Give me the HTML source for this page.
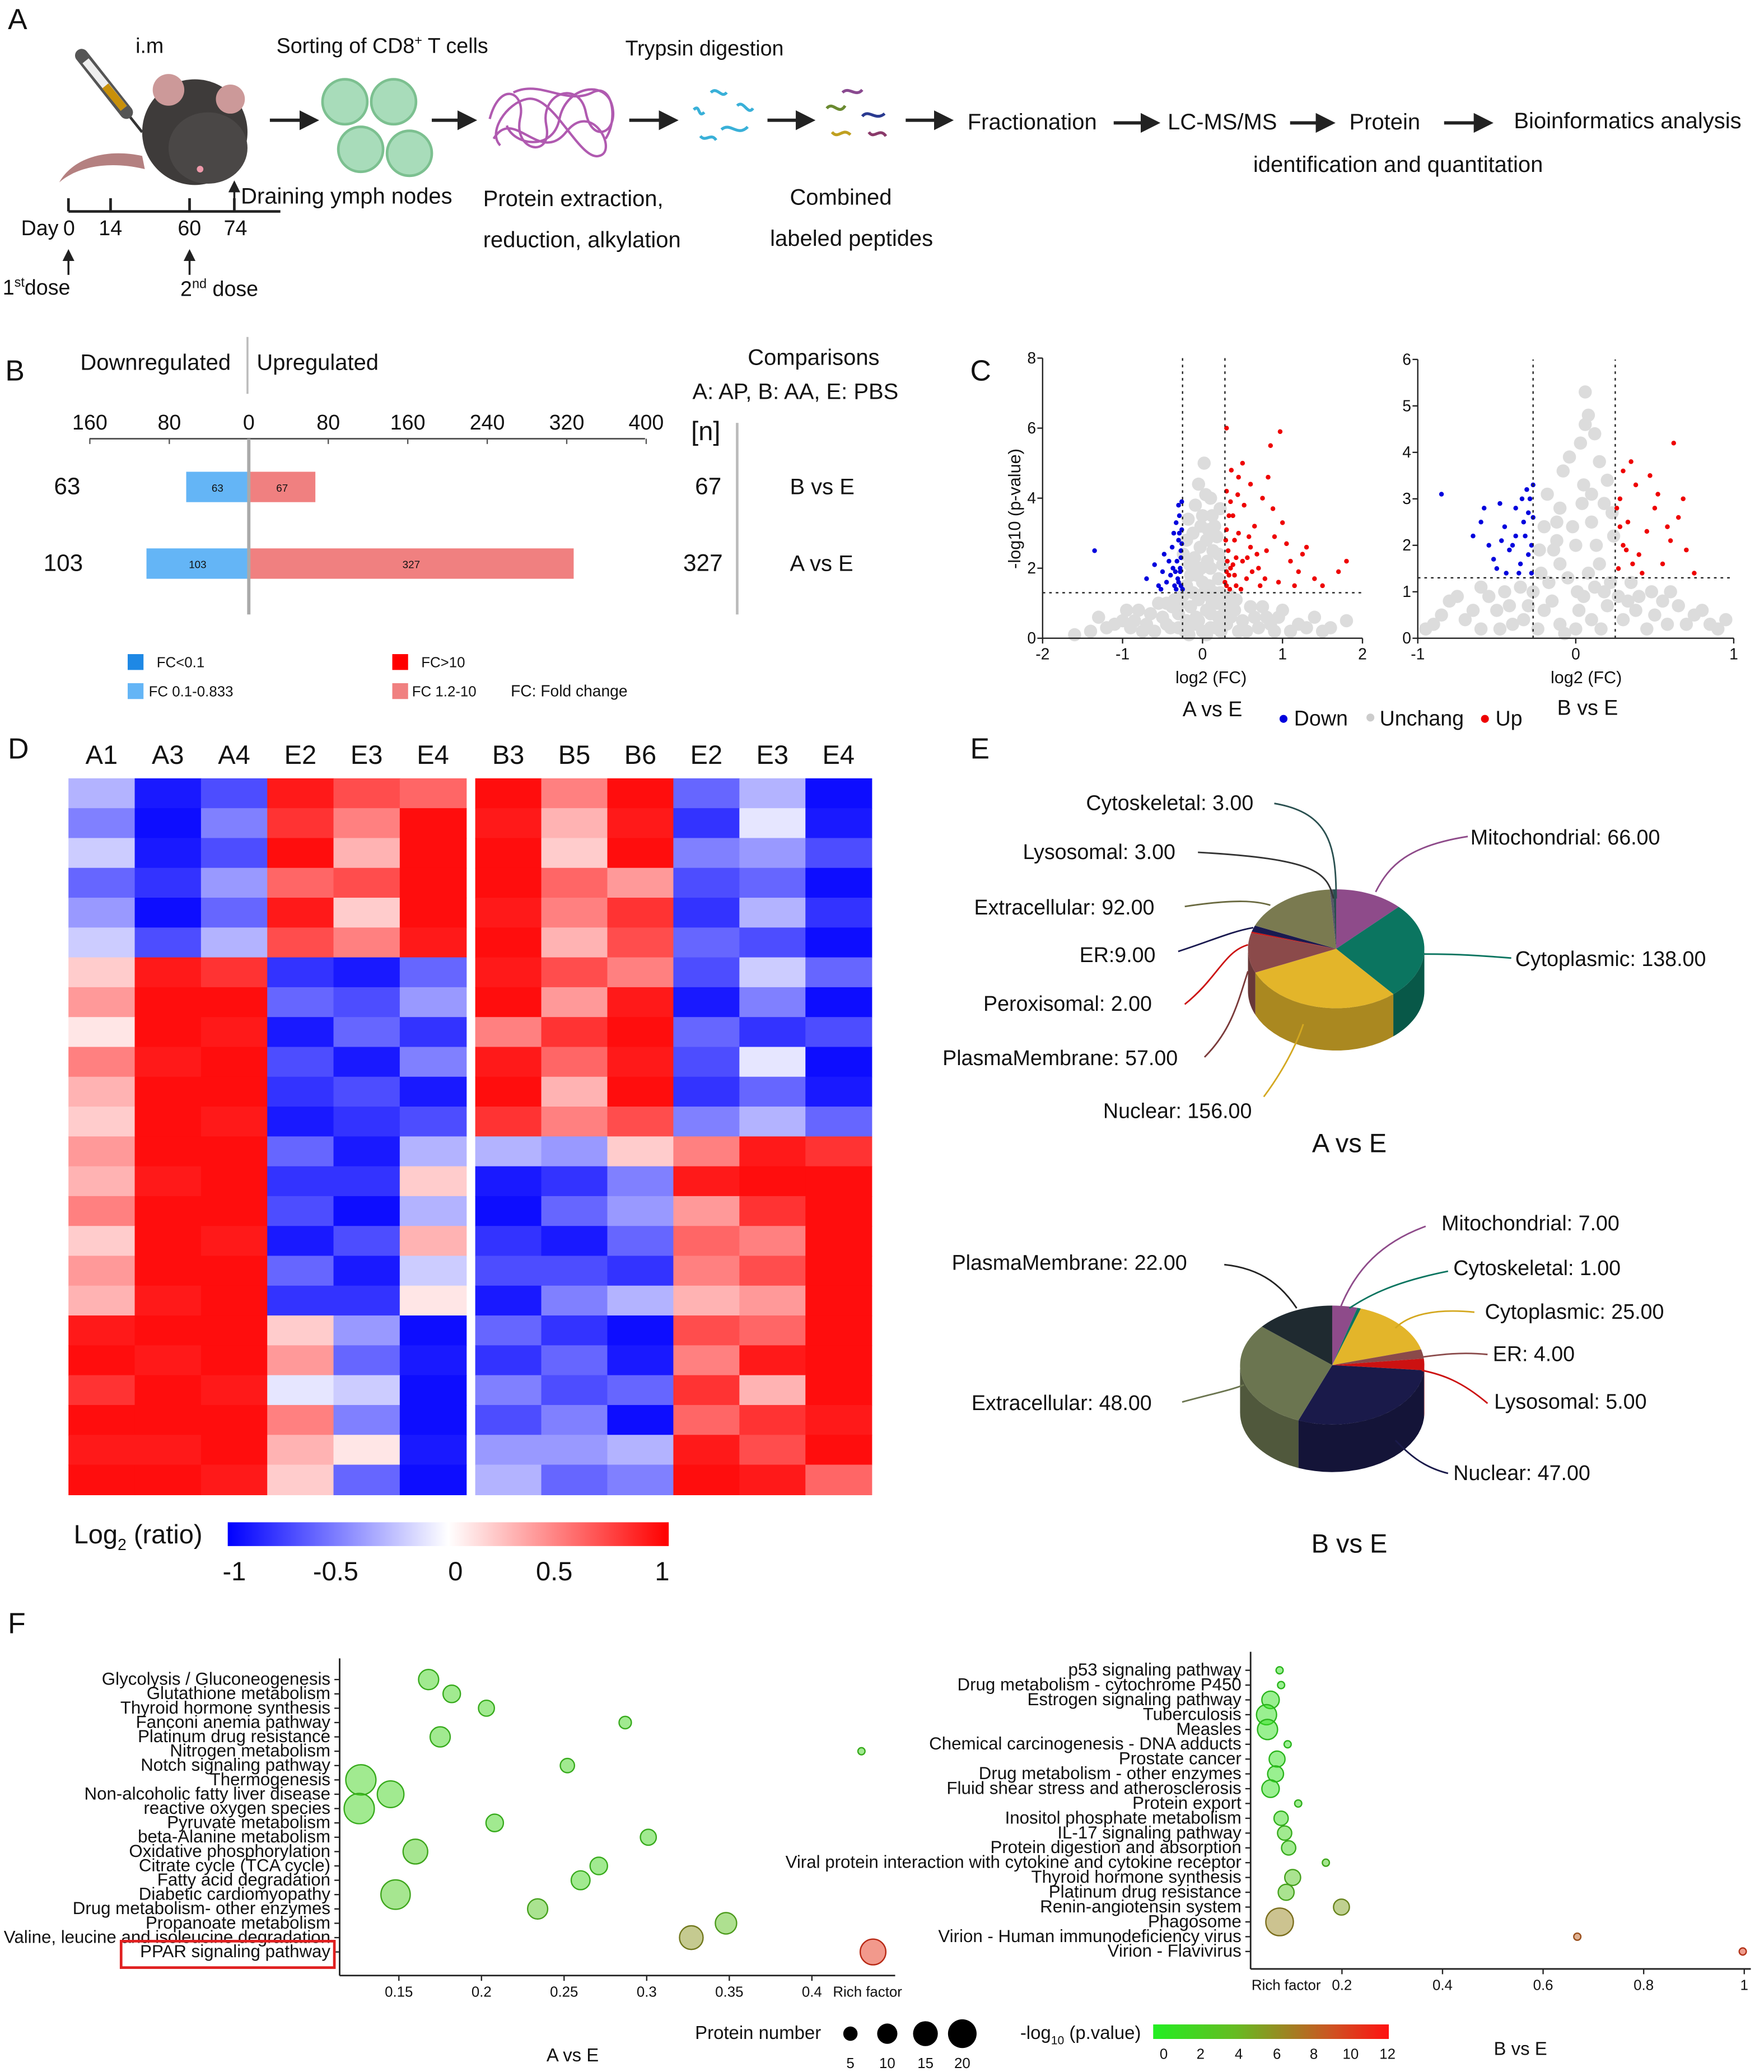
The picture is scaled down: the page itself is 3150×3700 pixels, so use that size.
<!DOCTYPE html>
<html><head><meta charset="utf-8"><style>
html,body{margin:0;padding:0;background:#fff}
svg{display:block}
text{font-family:"Liberation Sans",Arial,sans-serif;fill:#111}
</style></head><body>
<svg id="fig" width="3150" height="3700" viewBox="0 0 1340 1568" preserveAspectRatio="none" xmlns="http://www.w3.org/2000/svg">
<defs>
<marker id="ah" markerWidth="6" markerHeight="6" refX="5" refY="3" orient="auto"><path d="M0,0L6,3L0,6z" fill="#222"/></marker>
<linearGradient id="hmgrad" x1="0" x2="1"><stop offset="0" stop-color="#0000ff"/><stop offset="0.5" stop-color="#ffffff"/><stop offset="1" stop-color="#ff0000"/></linearGradient>
<linearGradient id="pgrad" x1="0" x2="1"><stop offset="0" stop-color="#22ee22"/><stop offset="0.35" stop-color="#66bb22"/><stop offset="0.55" stop-color="#998822"/><stop offset="0.75" stop-color="#cc5522"/><stop offset="1" stop-color="#ff1111"/></linearGradient>
</defs>

<!-- Panel A -->
<g>
<text x="6" y="22" font-size="22">A</text>
<g>
<line x1="60" y1="40" x2="108" y2="100" stroke="#333" stroke-width="2"/>
<line x1="62" y1="42" x2="96" y2="85" stroke="#555" stroke-width="10" stroke-linecap="round"/>
<line x1="65" y1="46" x2="94" y2="82" stroke="#eee" stroke-width="6"/>
<line x1="80" y1="65" x2="94" y2="82" stroke="#c8900a" stroke-width="6"/>
</g>
<g>
<path d="M108,118 C80,112 55,120 45,138 C60,125 85,122 110,128z" fill="#b48080"/>
<ellipse cx="148" cy="100" rx="40" ry="40" fill="#3e3b3a"/>
<ellipse cx="158" cy="112" rx="30" ry="27" fill="#4a4746"/>
<circle cx="128" cy="68" r="12" fill="#c99"/><circle cx="175" cy="75" r="11" fill="#c99"/>
<circle cx="152" cy="128" r="2.5" fill="#e9a"/>
</g>
<text x="103" y="40" font-size="16">i.m</text>
<text x="210" y="40" font-size="16">Sorting of CD8<tspan font-size="10" dy="-6">+</tspan><tspan dy="6"> T cells</tspan></text>
<g fill="#a8dcba" stroke="#7cc090" stroke-width="2">
<circle cx="262" cy="77" r="17"/><circle cx="299" cy="77" r="17"/><circle cx="274" cy="113" r="17"/><circle cx="311" cy="116" r="17"/>
</g>
<g fill="none" stroke="#b05ab0" stroke-width="1.8">
<path d="M372,90 C380,60 400,70 395,90 C390,115 420,120 415,95 C410,70 440,60 445,85 C450,110 470,100 465,80 C460,60 430,65 425,90 C420,115 390,110 385,95"/>
<path d="M375,105 C390,80 410,125 430,100 C450,75 470,115 455,118 C440,122 420,70 400,75 C385,78 370,100 380,110"/>
<path d="M390,70 C410,60 430,80 450,70 C465,62 470,90 460,105"/>
</g>
<g fill="none" stroke-width="2.2">
<path d="M527,83 C532,78 530,90 535,85" stroke="#39b0d8"/><path d="M540,70 C545,65 548,75 552,70" stroke="#39b0d8"/>
<path d="M548,98 C555,92 560,104 568,96" stroke="#39b0d8"/><path d="M532,103 C536,108 540,100 544,106" stroke="#39b0d8"/>
<path d="M560,80 C565,75 568,88 572,82" stroke="#39b0d8"/>
<path d="M628,82 C633,76 637,88 642,80" stroke="#6a8a30"/><path d="M640,70 C645,65 650,74 655,68" stroke="#8a4a90"/>
<path d="M655,88 C660,82 665,92 672,86" stroke="#2a3a90"/><path d="M632,100 C637,106 640,96 646,102" stroke="#c0a020"/>
<path d="M660,100 C664,106 668,96 673,103" stroke="#8a3a6a"/>
</g>
<g stroke="#222" stroke-width="2.5" marker-end="url(#ah)">
<line x1="205" y1="91" x2="240" y2="91"/><line x1="328" y1="91" x2="360" y2="91"/><line x1="478" y1="91" x2="513" y2="91"/>
<line x1="583" y1="91" x2="617" y2="91"/><line x1="688" y1="91" x2="722" y2="91"/><line x1="846" y1="93" x2="879" y2="93"/>
<line x1="980" y1="93" x2="1012" y2="93"/><line x1="1097" y1="93" x2="1132" y2="93"/>
</g>
<text x="475" y="42" font-size="16">Trypsin digestion</text>
<text x="735" y="98" font-size="17">Fractionation</text>
<text x="887" y="98" font-size="17">LC-MS/MS</text>
<text x="1025" y="98" font-size="17">Protein</text>
<text x="1150" y="97" font-size="17">Bioinformatics analysis</text>
<text x="952" y="130" font-size="17">identification and quantitation</text>
<text x="367" y="156" font-size="17">Protein extraction,</text>
<text x="367" y="187" font-size="17">reduction, alkylation</text>
<text x="600" y="155" font-size="17">Combined</text>
<text x="585" y="186" font-size="17">labeled peptides</text>
<line x1="178" y1="160" x2="178" y2="138" stroke="#222" stroke-width="1.5" marker-end="url(#ah)"/>
<text x="183" y="154" font-size="17">Draining ymph nodes</text>
<g stroke="#222" stroke-width="2">
<line x1="52" y1="160" x2="213" y2="160"/>
<line x1="52" y1="150" x2="52" y2="160"/><line x1="84" y1="150" x2="84" y2="160"/><line x1="144" y1="150" x2="144" y2="160"/><line x1="178" y1="150" x2="178" y2="160"/>
<line x1="52" y1="208" x2="52" y2="190" stroke-width="1.5" marker-end="url(#ah)"/><line x1="144" y1="208" x2="144" y2="190" stroke-width="1.5" marker-end="url(#ah)"/>
</g>
<text x="16" y="178" font-size="16">Day</text>
<text x="48" y="178" font-size="16">0</text><text x="75" y="178" font-size="16">14</text><text x="135" y="178" font-size="16">60</text><text x="170" y="178" font-size="16">74</text>
<text x="2" y="223" font-size="16">1<tspan font-size="10" dy="-6">st</tspan><tspan dy="6">dose</tspan></text>
<text x="137" y="224" font-size="16">2<tspan font-size="10" dy="-6">nd</tspan><tspan dy="6"> dose</tspan></text>
</g>

<!-- Panel B -->
<g id="panelB">
<text x="4" y="288" font-size="22">B</text>
<text x="61" y="280" font-size="17">Downregulated</text>
<text x="195" y="280" font-size="17">Upregulated</text>
<line x1="188" y1="255" x2="188" y2="298" stroke="#bbb" stroke-width="1.5"/>
<text x="568" y="276" font-size="17">Comparisons</text>
<text x="526" y="302" font-size="17">A: AP, B: AA, E: PBS</text>
<text x="525" y="333" font-size="20">[n]</text>
<line x1="560" y1="320" x2="560" y2="465" stroke="#bbb" stroke-width="2"/>
<line x1="68" y1="332" x2="490" y2="332" stroke="#555" stroke-width="1.2"/>
<g id="bTicks"></g><g id="bBars"></g>
<line x1="189" y1="332" x2="189" y2="465" stroke="#aaa" stroke-width="2.5"/>
<g font-size="11">
<rect x="97" y="495" width="12" height="12" fill="#1e88e5"/><text x="119" y="505" font-size="11">FC&lt;0.1</text>
<rect x="97" y="517" width="12" height="12" fill="#64b5f6"/><text x="113" y="527" font-size="11">FC 0.1-0.833</text>
<rect x="298" y="495" width="12" height="12" fill="#ff0000"/><text x="320" y="505" font-size="11">FC&gt;10</text>
<rect x="298" y="517" width="12" height="12" fill="#f08080"/><text x="313" y="527" font-size="11">FC 1.2-10</text>
<text x="388" y="527" font-size="12">FC: Fold change</text>
</g>
</g>

<!-- Panel C -->
<g id="panelC">
<text x="737" y="288" font-size="22">C</text>
<text transform="translate(775,385) rotate(-90)" font-size="13" text-anchor="middle">-log10 (p-value)</text>
<text x="920" y="517" font-size="13" text-anchor="middle">log2 (FC)</text>
<text x="1205" y="517" font-size="13" text-anchor="middle">log2 (FC)</text>
<text x="921" y="542" font-size="16" text-anchor="middle">A vs E</text>
<text x="1206" y="541" font-size="16" text-anchor="middle">B vs E</text>
<g>
<circle cx="975" cy="544" r="3" fill="#0000dd"/><text x="983" y="549" font-size="16">Down</text>
<circle cx="1041" cy="543" r="3" fill="#ccc"/><text x="1048" y="549" font-size="16">Unchang</text>
<circle cx="1128" cy="544" r="3" fill="#ee0000"/><text x="1136" y="549" font-size="16">Up</text>
</g>
<g id="volL"></g><g id="volR"></g>
</g>

<!-- Panel D -->
<g id="panelD">
<text x="6" y="574" font-size="22">D</text>
<g id="hmLabels" font-size="20"></g>
<g id="hmL"></g><g id="hmR"></g>
<text x="56" y="1168" font-size="20">Log<tspan font-size="12" dy="5">2</tspan><tspan dy="-5"> (ratio)</tspan></text>
<rect x="173" y="1152" width="335" height="18" fill="url(#hmgrad)"/>
<g font-size="20" text-anchor="middle">
<text x="178" y="1196">-1</text><text x="255" y="1196">-0.5</text><text x="346" y="1196">0</text><text x="421" y="1196">0.5</text><text x="503" y="1196">1</text>
</g>
</g>

<!-- Panel E -->
<g id="panelE">
<text x="737" y="574" font-size="22">E</text>
<g id="pieA"></g><g id="pieB"></g>
<g font-size="16">
<text x="825" y="613">Cytoskeletal: 3.00</text>
<text x="777" y="650">Lysosomal: 3.00</text>
<text x="740" y="692">Extracellular: 92.00</text>
<text x="820" y="728">ER:9.00</text>
<text x="747" y="765">Peroxisomal: 2.00</text>
<text x="716" y="806">PlasmaMembrane: 57.00</text>
<text x="838" y="846">Nuclear: 156.00</text>
<text x="1117" y="639">Mitochondrial: 66.00</text>
<text x="1151" y="731">Cytoplasmic: 138.00</text>
</g>
<g fill="none" stroke-width="1.2">
<path d="M968,608 C1010,615 1015,640 1015,680" stroke="#2a5050"/>
<path d="M910,645 C1000,650 1008,660 1013,680" stroke="#333"/>
<path d="M900,686 C940,680 955,682 965,685" stroke="#6a6a40"/>
<path d="M895,720 C920,712 935,705 952,702" stroke="#1a1a50"/>
<path d="M900,760 C925,740 930,720 948,715" stroke="#cc1111"/>
<path d="M915,800 C935,780 940,760 948,735" stroke="#7a3a3a"/>
<path d="M960,830 C975,810 985,790 990,775" stroke="#d4a820"/>
<path d="M1115,633 C1070,640 1055,655 1045,675" stroke="#8e4b8a"/>
<path d="M1148,725 C1110,722 1095,722 1082,722" stroke="#0b7560"/>
</g>
<text x="1025" y="872" font-size="20" text-anchor="middle">A vs E</text>
<g font-size="16">
<text x="1095" y="931">Mitochondrial: 7.00</text>
<text x="723" y="961">PlasmaMembrane: 22.00</text>
<text x="1104" y="965">Cytoskeletal: 1.00</text>
<text x="1128" y="998">Cytoplasmic: 25.00</text>
<text x="1134" y="1030">ER: 4.00</text>
<text x="738" y="1067">Extracellular: 48.00</text>
<text x="1135" y="1066">Lysosomal: 5.00</text>
<text x="1104" y="1120">Nuclear: 47.00</text>
</g>
<g fill="none" stroke-width="1.2">
<path d="M1083,928 C1050,940 1030,960 1018,990" stroke="#8e4b8a"/>
<path d="M930,957 C960,960 975,975 985,990" stroke="#222"/>
<path d="M1100,962 C1060,970 1040,980 1025,990" stroke="#0b7560"/>
<path d="M1120,993 C1090,990 1070,995 1060,1005" stroke="#d4a820"/>
<path d="M1130,1025 C1110,1023 1095,1025 1080,1027" stroke="#8a4a4a"/>
<path d="M898,1061 C920,1055 935,1052 945,1048" stroke="#6b7550"/>
<path d="M1130,1062 C1110,1045 1095,1040 1080,1037" stroke="#cc1111"/>
<path d="M1100,1115 C1080,1110 1070,1100 1060,1090" stroke="#1a1a4a"/>
</g>
<text x="1025" y="1175" font-size="20" text-anchor="middle">B vs E</text>
</g>

<!-- Panel F -->
<g id="panelF">
<text x="6" y="1236" font-size="22">F</text>
<g id="bubL"></g><g id="bubR"></g>
<rect x="92" y="1469" width="162" height="20" fill="none" stroke="#e02020" stroke-width="2"/>
<text x="435" y="1560" font-size="14" text-anchor="middle">A vs E</text>
<text x="1155" y="1555" font-size="14" text-anchor="middle">B vs E</text>
<text x="528" y="1543" font-size="14">Protein number</text>
<g id="sizeLegend"></g>
<text x="775" y="1543" font-size="14">-log<tspan font-size="9" dy="4">10</tspan><tspan dy="-4"> (p.value)</tspan></text>
<rect x="876" y="1532" width="179" height="11" fill="url(#pgrad)"/>
<g font-size="11" text-anchor="middle">
<text x="884" y="1558">0</text><text x="912" y="1558">2</text><text x="941" y="1558">4</text><text x="970" y="1558">6</text><text x="998" y="1558">8</text><text x="1026" y="1558">10</text><text x="1054" y="1558">12</text>
</g>
</g>
</svg>
<script>
var NS='http://www.w3.org/2000/svg';
function mk(tag,attrs,parent){var e=document.createElementNS(NS,tag);for(var k in attrs)e.setAttribute(k,attrs[k]);parent.appendChild(e);return e;}

// ===== Panel B data =====
var bComparisons=['B vs E','A vs E'];
var bDown=[63,103];
var bUp=[67,327];
var bTickVals=[-160,-80,0,80,160,240,320,400];
function bx(v){return 189+v*0.7547;}
(function(){
 var g=document.getElementById('bTicks');
 bTickVals.forEach(function(t){
  var tx=mk('text',{x:bx(t),y:325,'font-size':16,'text-anchor':'middle'},g);tx.textContent=Math.abs(t);
  
  
  mk('line',{x1:bx(t),y1:332,x2:bx(t),y2:336,stroke:'#555'},g);
 });
 var gb=document.getElementById('bBars');
 var rowsY=[357,415];
 bComparisons.forEach(function(c,i){
  var y=rowsY[i];
  var r1=mk('rect',{x:bx(-bDown[i]),y:y,width:bx(0)-bx(-bDown[i]),height:23,fill:'#64b5f6'},gb);
  
  
  var r2=mk('rect',{x:bx(0),y:y,width:bx(bUp[i])-bx(0),height:23,fill:'#f08080'},gb);
  
  
  var t1=mk('text',{x:(bx(-bDown[i])+bx(0))/2,y:y+15,'font-size':8,'text-anchor':'middle'},gb);t1.textContent=bDown[i];
  var t2=mk('text',{x:(bx(bUp[i])+bx(0))/2,y:y+15,'font-size':8,'text-anchor':'middle'},gb);t2.textContent=bUp[i];
  var l=mk('text',{x:i?33:41,y:y+17,'font-size':18},gb);l.textContent=bDown[i];
  var r=mk('text',{x:i?519:528,y:y+17,'font-size':18},gb);r.textContent=bUp[i];
  var n=mk('text',{x:600,y:y+17,'font-size':17},gb);n.textContent=c;
 });
})();

// ===== Panel C data =====
var volLBlue=[[-0.25,1.4],[-0.3,1.6],[-0.28,1.9],[-0.35,1.5],[-0.32,2.2],[-0.27,2.5],[-0.4,1.8],[-0.3,2.8],[-0.26,3.1],[-0.29,3.5],[-0.26,3.9],[-0.33,3.3],[-0.45,1.6],[-0.5,1.9],[-0.38,2.6],[-0.42,2.2],[-0.55,1.5],[-0.6,2.1],[-0.36,3.0],[-0.28,2.0],[-0.31,1.7],[-0.48,2.4],[-0.27,1.5],[-0.34,1.9],[-1.35,2.5],[-0.7,1.7],[-0.26,2.7],[-0.3,3.8],[-0.37,2.0],[-0.52,1.4],[-0.27,2.3],[-0.33,1.4],[-0.29,3.0]];
var volLRed=[[0.3,1.5],[0.35,2],[0.4,1.8],[0.32,2.5],[0.45,3],[0.5,2.2],[0.38,3.5],[0.3,4.2],[0.35,3.9],[0.6,2.6],[0.55,1.7],[0.7,2],[0.8,2.5],[0.65,3.2],[0.75,4],[0.9,2.9],[1,3.3],[0.95,1.6],[1.1,2.2],[1.2,1.9],[1.3,2.6],[1.4,1.7],[1.5,1.5],[1.7,1.9],[1.8,2.2],[0.97,5.9],[0.85,5.5],[0.3,6],[0.45,4.6],[0.6,4.4],[0.4,2.8],[0.33,1.8],[0.3,3.1],[0.42,2.3],[0.52,3.8],[0.62,1.9],[0.72,1.5],[0.48,1.4],[0.36,4.8],[0.88,3.7],[1.05,2.7],[0.78,1.7],[0.58,2.9],[0.68,2.4],[0.31,2.2],[0.28,1.6],[0.29,2.8],[1.15,1.5],[1.25,2.4],[0.82,4.6],[0.5,5],[0.44,4.1],[0.34,1.4],[0.38,2.1],[0.3,1.9],[0.42,1.5],[0.33,3.5],[0.56,2.3]];
var volLGray=[[0,0.2],[0.1,0.3],[-0.1,0.4],[0.05,0.8],[-0.05,1.1],[0.15,1.3],[-0.15,0.9],[0.2,0.6],[-0.2,0.5],[0.25,1],[-0.25,1.2],[0,1.6],[0.1,2],[-0.1,2.3],[0.05,2.8],[0.15,3.2],[-0.15,1.8],[0.2,2.4],[-0.2,2.8],[0,3.5],[0.1,4],[-0.05,4.4],[0.22,3.7],[-0.3,0.7],[0.3,0.4],[-0.4,0.3],[0.4,0.8],[-0.5,0.6],[0.5,0.5],[-0.6,0.2],[0.6,0.9],[-0.7,0.4],[0.7,0.3],[-0.8,0.8],[0.8,0.6],[-0.9,0.3],[0.9,0.2],[-1,0.5],[1,0.8],[-1.2,0.3],[1.2,0.4],[-1.4,0.2],[1.4,0.6],[-1.6,0.1],[1.6,0.3],[1.8,0.5],[-0.35,1.1],[0.35,1.2],[-0.45,1],[0.45,0.2],[0.02,5],[-0.12,3],[0.12,1],[-0.02,2],[0.18,2.9],[-0.18,3.4],[0.08,1.5],[-0.08,0.6],
[0.05,0.1],[-0.05,0.5],[0.1,0.7],[-0.12,1.3],[0.18,1.0],[-0.22,0.2],[0.28,0.8],[-0.3,0.3],[0.35,0.6],[-0.38,0.9],[0.42,1.1],[-0.45,0.4],[0.55,0.2],[-0.55,1.0],[0.65,0.6],[-0.65,0.7],[0.75,0.9],[-0.75,0.2],[0.85,0.4],[-0.85,0.5],[0.95,0.6],[-0.95,0.8],[1.1,0.2],[-1.1,0.4],[1.3,0.3],[-1.3,0.6],[1.5,0.2],[0.02,1.3],[-0.03,2.6],[0.07,3.1],[-0.09,3.8],[0.13,2.5],[-0.16,2.1],[0.2,1.7],[-0.2,1.5],[0.25,2.1],[-0.24,2.4],[0.04,4.1],[-0.07,1.8],[0.09,1.2],[0.16,0.3],[-0.17,0.1],[0.23,0.2],[0.3,1.0],[-0.28,1.0],[0.12,3.5],[-0.02,3.2],[0.06,2.2],[0.22,1.3]];
var volRBlue=[[-0.28,1.4],[-0.3,1.8],[-0.32,2.2],[-0.27,2.6],[-0.35,1.6],[-0.4,2.0],[-0.29,3.0],[-0.31,3.2],[-0.45,2.4],[-0.5,1.5],[-0.55,2.0],[-0.38,2.8],[-0.42,1.9],[-0.6,2.5],[-0.48,2.9],[-0.33,2.5],[-0.28,2.0],[-0.36,1.4],[-0.52,1.7],[-0.65,2.2],[-0.85,3.1],[-0.44,1.4],[-0.3,2.7],[-0.38,2.2],[-0.58,2.8],[-0.27,3.3],[-0.47,2.1],[-0.34,3.0]];
var volRRed=[[0.27,1.5],[0.3,2],[0.33,2.5],[0.28,3],[0.35,3.8],[0.4,1.8],[0.45,2.3],[0.5,2.8],[0.38,3.3],[0.55,1.6],[0.6,2.1],[0.65,2.6],[0.7,1.9],[0.75,1.4],[0.3,3.6],[0.42,1.4],[0.62,4.2],[0.52,3.1],[0.28,2.4],[0.36,1.6],[0.47,3.5],[0.68,3.0],[0.32,1.9],[0.26,2.8],[0.58,2.4]];
var volRGray=[[0,0.2],[0.1,0.4],[-0.1,0.3],[0.05,0.9],[-0.05,1.3],[0.15,1.6],[-0.15,0.8],[0.2,0.7],[-0.2,0.6],[0.22,1.2],[-0.22,1.4],[0,2],[0.1,2.5],[-0.1,2.8],[0.05,3.3],[0.15,3.8],[-0.12,2.1],[0.18,2.9],[-0.18,3.1],[0.03,4.2],[0.08,4.8],[0.06,5.3],[-0.3,0.7],[0.3,0.4],[-0.4,0.3],[0.4,0.9],[-0.5,0.6],[0.5,0.5],[-0.6,0.2],[0.6,1.0],[-0.7,0.4],[0.7,0.3],[-0.8,0.8],[0.8,0.6],[-0.9,0.3],[0.9,0.2],[-0.35,1.1],[0.35,1.2],[-0.45,1.0],[0.45,0.2],[-0.02,2.4],[0.12,1.1],[-0.08,3.6],[0.2,3.4],[-0.6,1.1],[0.55,0.8],
[0.02,0.6],[-0.07,0.1],[0.08,1.4],[-0.14,1.9],[0.13,2.0],[-0.2,2.4],[0.24,2.2],[-0.24,0.2],[0.27,0.9],[-0.33,0.4],[0.38,0.6],[-0.42,0.7],[0.48,1.0],[-0.48,0.2],[0.58,0.3],[-0.55,0.9],[0.65,0.7],[-0.65,0.6],[0.75,0.5],[-0.75,0.9],[0.85,0.3],[-0.85,0.5],[0.95,0.4],[-0.95,0.2],[0.04,2.9],[-0.04,3.9],[0.1,3.1],[0.12,4.4],[-0.1,1.6],[0.18,1.0],[-0.17,1.2],[0.23,2.7],[-0.23,1.9],[0.01,1.0],[0.16,0.2],[-0.27,1.0],[0.33,0.8],[0.06,4.6],[-0.12,2.5]];

function volcano(gid,xr,yr,xpx,ypx,xticks,yticks,dashX,dashY,blue,red,gray){
 var g=document.getElementById(gid);
 function X(v){return xpx[0]+(v-xr[0])/(xr[1]-xr[0])*(xpx[1]-xpx[0]);}
 function Y(v){return ypx[0]-(v-yr[0])/(yr[1]-yr[0])*(ypx[0]-ypx[1]);}
 gray.forEach(function(p){var c=mk('circle',{cx:X(p[0]),cy:Y(p[1]),r:5,fill:'#dcdcdc'},g);
  });
 blue.forEach(function(p){var c=mk('circle',{cx:X(p[0]),cy:Y(p[1]),r:1.8,fill:'#0000dd'},g);
  });
 red.forEach(function(p){var c=mk('circle',{cx:X(p[0]),cy:Y(p[1]),r:1.8,fill:'#ee0000'},g);
  });
 mk('line',{x1:xpx[0],y1:ypx[0],x2:xpx[1],y2:ypx[0],stroke:'#222'},g);
 mk('line',{x1:xpx[0],y1:ypx[0],x2:xpx[0],y2:ypx[1],stroke:'#222'},g);
 dashX.forEach(function(d){mk('line',{x1:X(d),y1:ypx[0],x2:X(d),y2:ypx[1],stroke:'#222','stroke-dasharray':'2,3'},g);});
 mk('line',{x1:xpx[0],y1:Y(dashY),x2:xpx[1],y2:Y(dashY),stroke:'#222','stroke-dasharray':'2,3'},g);
 xticks.forEach(function(t){mk('line',{x1:X(t),y1:ypx[0],x2:X(t),y2:ypx[0]+4,stroke:'#222'},g);
  var tx=mk('text',{x:X(t),y:ypx[0]+16,'font-size':12,'text-anchor':'middle'},g);tx.textContent=t;});
 yticks.forEach(function(t){mk('line',{x1:xpx[0]-4,y1:Y(t),x2:xpx[0],y2:Y(t),stroke:'#222'},g);
  var tx=mk('text',{x:xpx[0]-5,y:Y(t)+4,'font-size':12,'text-anchor':'end'},g);tx.textContent=t;});
}
volcano('volL',[-2,2],[0,8],[792,1035],[483,271],[-2,-1,0,1,2],[0,2,4,6,8],[-0.25,0.28],1.3,volLBlue,volLRed,volLGray);
volcano('volR',[-1,1],[0,6],[1077,1317],[483,272],[-1,0,1],[0,1,2,3,4,5,6],[-0.27,0.25],1.3,volRBlue,volRRed,volRGray);

// ===== Panel D heatmap data =====
var hmColsL=['A1','A3','A4','E2','E3','E4'];
var hmColsR=['B3','B5','B6','E2','E3','E4'];
var hmRowsL=[
[-0.3,-0.9,-0.7,0.9,0.7,0.6],[-0.5,-0.95,-0.5,0.8,0.5,0.95],[-0.2,-0.9,-0.7,0.95,0.3,0.95],[-0.6,-0.8,-0.4,0.6,0.7,0.95],[-0.4,-0.95,-0.6,0.9,0.2,0.95],[-0.2,-0.7,-0.3,0.7,0.5,0.9],
[0.2,0.9,0.8,-0.8,-0.9,-0.6],[0.4,0.95,0.95,-0.6,-0.7,-0.4],[0.1,0.95,0.9,-0.9,-0.6,-0.8],[0.5,0.9,0.95,-0.7,-0.9,-0.5],[0.3,0.95,0.95,-0.8,-0.7,-0.9],[0.2,0.95,0.9,-0.9,-0.8,-0.7],[0.4,0.95,0.95,-0.6,-0.9,-0.3],
[0.3,0.9,0.95,-0.8,-0.8,0.2],[0.5,0.95,0.95,-0.7,-0.95,-0.3],[0.2,0.95,0.9,-0.9,-0.7,0.3],[0.4,0.95,0.95,-0.6,-0.9,-0.2],[0.3,0.9,0.95,-0.8,-0.8,0.1],
[0.9,0.95,0.95,0.2,-0.4,-0.95],[0.95,0.9,0.95,0.4,-0.6,-0.9],[0.8,0.95,0.9,-0.1,-0.2,-0.95],[0.95,0.95,0.95,0.5,-0.5,-0.95],[0.9,0.9,0.95,0.3,0.1,-0.9],[0.95,0.95,0.9,0.2,-0.6,-0.95]];
var hmRowsR=[
[0.95,0.5,0.95,-0.6,-0.3,-0.95],[0.9,0.3,0.9,-0.8,-0.1,-0.9],[0.95,0.2,0.95,-0.5,-0.4,-0.7],[0.95,0.6,0.4,-0.7,-0.6,-0.95],[0.9,0.5,0.8,-0.8,-0.3,-0.8],[0.95,0.3,0.7,-0.6,-0.7,-0.95],
[0.9,0.7,0.5,-0.7,-0.2,-0.6],[0.95,0.4,0.9,-0.9,-0.5,-0.95],[0.5,0.8,0.95,-0.6,-0.8,-0.7],[0.9,0.6,0.9,-0.7,-0.1,-0.95],[0.95,0.3,0.95,-0.8,-0.6,-0.9],[0.8,0.5,0.7,-0.5,-0.3,-0.6],
[-0.3,-0.4,0.2,0.5,0.9,0.8],[-0.9,-0.8,-0.5,0.9,0.95,0.95],[-0.95,-0.6,-0.4,0.4,0.8,0.95],[-0.8,-0.9,-0.6,0.6,0.5,0.95],[-0.7,-0.7,-0.8,0.5,0.7,0.95],[-0.9,-0.5,-0.3,0.3,0.4,0.95],
[-0.6,-0.8,-0.95,0.7,0.6,0.95],[-0.8,-0.6,-0.9,0.5,0.9,0.95],[-0.5,-0.7,-0.6,0.8,0.3,0.95],[-0.7,-0.5,-0.95,0.6,0.8,0.9],[-0.4,-0.4,-0.3,0.9,0.7,0.95],[-0.3,-0.6,-0.5,0.95,0.9,0.6]];
function hmColor(v){v=Math.max(-1,Math.min(1,v));
 if(v<0){var c=Math.round(255*(1+v));return 'rgb('+c+','+c+',255)';}
 var c2=Math.round(255*(1-v));return 'rgb(255,'+c2+','+c2+')';}
function heatmap(gid,rows,cols,x0,x1,y0,y1){
 var g=document.getElementById(gid);var cw=(x1-x0)/cols.length,rh=(y1-y0)/rows.length;
 rows.forEach(function(r,i){r.forEach(function(v,j){
  var c=mk('rect',{x:x0+j*cw,y:y0+i*rh,width:cw+0.5,height:rh+0.5,fill:hmColor(v)},g);
  
  
 });});
 var gl=document.getElementById('hmLabels');
 cols.forEach(function(c,j){var t=mk('text',{x:x0+j*cw+cw/2,y:578,'font-size':20,'text-anchor':'middle'},gl);t.textContent=c;
  
  });
}
heatmap('hmL',hmRowsL,hmColsL,52,354,589,1131);
heatmap('hmR',hmRowsR,hmColsR,361,662,589,1131);

// ===== Panel E pie data =====
var pieACats=['Mitochondrial','Cytoplasmic','Nuclear','PlasmaMembrane','Peroxisomal','ER','Extracellular','Lysosomal','Cytoskeletal'];
var pieAVals=[66,138,156,57,2,9,92,3,3];
var pieAColors=['#8e4b8a','#0b7560','#e3b52a','#8b4a4a','#cc1111','#1a1a50','#7a7a50','#556','#2a5050'];
var pieBCats=['Mitochondrial','Cytoskeletal','Cytoplasmic','ER','Lysosomal','Nuclear','Extracellular','PlasmaMembrane'];
var pieBVals=[7,1,25,4,5,47,48,22];
var pieBColors=['#8e4b8a','#0b7560','#e3b52a','#8a4a4a','#cc1111','#1a1a4a','#6b7550','#1f2a30'];
function shade(hex,f){var n=parseInt(hex.slice(1),16);var r=(n>>16)&255,g=(n>>8)&255,b=n&255;
 return 'rgb('+Math.round(r*f)+','+Math.round(g*f)+','+Math.round(b*f)+')';}
function pie3d(gid,vals,cols,cx,cy,rx,ry,d){
 var g=document.getElementById(gid);var tot=vals.reduce(function(a,b){return a+b;},0);
 var a=-Math.PI/2,ang=[];
 vals.forEach(function(v){var b=a+v/tot*2*Math.PI;ang.push([a,b]);a=b;});
 function P(t,dy){return (cx+rx*Math.cos(t)).toFixed(2)+','+(cy+ry*Math.sin(t)+dy).toFixed(2);}
 ang.forEach(function(ab,i){
  [[0,Math.PI],[2*Math.PI,3*Math.PI]].forEach(function(fr){
   var s=Math.max(ab[0],fr[0]),e=Math.min(ab[1],fr[1]);if(e<=s)return;
   var path='M'+P(s,0),n=20,k;
   for(k=1;k<=n;k++)path+=' L'+P(s+(e-s)*k/n,0);
   for(k=n;k>=0;k--)path+=' L'+P(s+(e-s)*k/n,d);
   var w=mk('path',{d:path+'Z',fill:shade(cols[i],0.75)},g);
   
   
  });
 });
 ang.forEach(function(ab,i){
  var s=ab[0],e=ab[1],n=Math.max(2,Math.ceil((e-s)*20)),path='M'+cx+','+cy;
  for(var k=0;k<=n;k++)path+=' L'+P(s+(e-s)*k/n,0);
  var sl=mk('path',{d:path+'Z',fill:cols[i]},g);
  
  
 });
}
pie3d('pieA',pieAVals,pieAColors,1015,718,67,45,32);
pie3d('pieB',pieBVals,pieBColors,1012,1033,70,45,36);

// ===== Panel F bubble data =====
var fLeftCats=['Glycolysis / Gluconeogenesis','Glutathione metabolism','Thyroid hormone synthesis','Fanconi anemia pathway','Platinum drug resistance','Nitrogen metabolism','Notch signaling pathway','Thermogenesis','Non-alcoholic fatty liver disease','reactive oxygen species','Pyruvate metabolism','beta-Alanine metabolism','Oxidative phosphorylation','Citrate cycle (TCA cycle)','Fatty acid degradation','Diabetic cardiomyopathy','Drug metabolism- other enzymes','Propanoate metabolism','Valine, leucine and isoleucine degradation','PPAR signaling pathway'];
var fLeftRich=[0.168,0.182,0.203,0.287,0.175,0.43,0.252,0.127,0.145,0.126,0.208,0.301,0.16,0.271,0.26,0.148,0.234,0.348,0.327,0.437];
var fLeftCount=[8,6,5,3,8,1,4,18,14,18,6,5,12,6,7,17,8,9,11,13];
var fLeftP=[2,2,2,2,2,2,2,2,2,2,2,2,2.5,2,2,2.5,3,3.5,5.5,10];
var fRightCats=['p53 signaling pathway','Drug metabolism - cytochrome P450','Estrogen signaling pathway','Tuberculosis','Measles','Chemical carcinogenesis - DNA adducts','Prostate cancer','Drug metabolism - other enzymes','Fluid shear stress and atherosclerosis','Protein export','Inositol phosphate metabolism','IL-17 signaling pathway','Protein digestion and absorption','Viral protein interaction with cytokine and cytokine receptor','Thyroid hormone synthesis','Platinum drug resistance','Renin-angiotensin system','Phagosome','Virion - Human immunodeficiency virus','Virion - Flavivirus'];
var fRightRich=[0.076,0.079,0.058,0.05,0.052,0.092,0.071,0.068,0.058,0.113,0.079,0.086,0.094,0.168,0.102,0.089,0.199,0.076,0.668,0.997];
var fRightCount=[1,1,6,8,8,1,5,5,6,1,4,4,4,1,5,5,5,15,1,1];
var fRightP=[1,1,1,1,1,1,1,1,1,1.5,1.5,2,2,2.5,3,3,5,6,7.5,9.5];
var fLeftTicks=[0.15,0.2,0.25,0.3,0.35,0.4];
var fRightTicks=[0.2,0.4,0.6,0.8,1];
var sizeLegendVals=[5,10,15,20];
function pColor(p){var st=[[0,[34,238,34]],[4,[102,187,34]],[6,[153,136,34]],[8,[204,85,34]],[12,[255,17,17]]];
 for(var i=1;i<st.length;i++){if(p<=st[i][0]){var t=(p-st[i-1][0])/(st[i][0]-st[i-1][0]);
  var c=st[i-1][1].map(function(v,k){return Math.round(v+(st[i][1][k]-v)*t);});return c;}}return st[st.length-1][1];}
function rad(n){return 2.7*Math.sqrt(n);}
function bubbles(gid,cats,rich,cnt,pv,ticks,X,axL,axR,yTop,yBot,y0,dy,richLabelX){
 var g=document.getElementById(gid);
 mk('line',{x1:axL,y1:yTop,x2:axL,y2:yBot,stroke:'#222','stroke-width':1.2},g);
 mk('line',{x1:axL,y1:yBot,x2:axR,y2:yBot,stroke:'#222','stroke-width':1.2},g);
 cats.forEach(function(c,i){var y=y0+i*dy;
  mk('line',{x1:axL-4,y1:y,x2:axL,y2:y,stroke:'#222'},g);
  var t=mk('text',{x:axL-7,y:y+4,'font-size':13.3,'text-anchor':'end'},g);t.textContent=c;
  
  
 });
 cats.forEach(function(c,i){var y=y0+i*dy,col=pColor(pv[i]);
  var b=mk('circle',{cx:X(rich[i]),cy:y,r:rad(cnt[i]),fill:'rgba('+col.join(',')+',0.5)',stroke:'rgb('+col.map(function(v){return Math.round(v*0.8);}).join(',')+')','stroke-width':1},g);
  
  
 });
 ticks.forEach(function(t){mk('line',{x1:X(t),y1:yBot,x2:X(t),y2:yBot+4,stroke:'#222'},g);
  var tx=mk('text',{x:X(t),y:yBot+16,'font-size':11,'text-anchor':'middle'},g);tx.textContent=t;});
 var rl=mk('text',{x:richLabelX,y:yBot+16,'font-size':11,'text-anchor':'middle'},g);rl.textContent='Rich factor';
}
bubbles('bubL',fLeftCats,fLeftRich,fLeftCount,fLeftP,fLeftTicks,function(v){return 303+(v-0.15)*1255;},258,680,1255,1495,1271,10.85,659);
bubbles('bubR',fRightCats,fRightRich,fRightCount,fRightP,fRightTicks,function(v){return 943+v*382;},950,1330,1250,1490,1264,11.2,977);
(function(){var g=document.getElementById('sizeLegend');var xs=[646,674,703,731];
 sizeLegendVals.forEach(function(v,i){var c=mk('circle',{cx:xs[i],cy:1539,r:rad(v)*0.9,fill:'#000'},g);
  
  
  var t=mk('text',{x:xs[i],y:1565,'font-size':11,'text-anchor':'middle'},g);t.textContent=v;});})();
</script>
</body></html>
